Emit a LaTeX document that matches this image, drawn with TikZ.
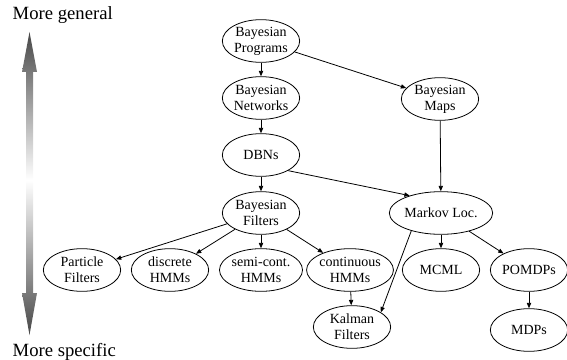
\documentclass[tikz,border=0pt]{standalone}
\usepackage{fontspec}
\setmainfont{Liberation Serif}[Ligatures=TeX]
\usepackage{tikz}
\usetikzlibrary{shapes.geometric,arrows.meta}

\begin{document}
\begin{tikzpicture}[x=0.75pt,y=-0.75pt,
			model/.style={ellipse,draw,line width=0.6pt,inner sep=0pt,minimum width=58pt,minimum height=32pt,align=center,font=\rmfamily\fontsize{10.5}{12}\selectfont},
			link/.style={-{Triangle[length=4pt,width=3.2pt]},line width=0.6pt},
			side/.style={anchor=base west,font=\rmfamily\fontsize{14}{16}\selectfont}]
			\useasboundingbox (0,0) rectangle (567,360);
			% scale on the left
			\node[side] (gen) at (8,20) {More general};
			\node[side] (spec) at (8,356) {More specific};
			\shade[top color=black!72,bottom color=white] (26,180) -- (26,72) -- (22,72) -- (29.5,32) -- (37,72) -- (33,72) -- (33,180) -- cycle;
			\shade[top color=white,bottom color=black!72] (26,180) -- (26,293) -- (22,293) -- (29.5,335) -- (37,293) -- (33,293) -- (33,180) -- cycle;
			% models
			\node[model] (bp) at (261,41) {Bayesian\\Programs};
			\node[model] (bn) at (261,98) {Bayesian\\Networks};
			\node[model] (dbn) at (261,155) {DBNs};
			\node[model] (bf) at (261,213) {Bayesian\\Filters};
			\node[model] (bm) at (440,99) {Bayesian\\Maps};
			\node[model] (ml) at (441,213) {Markov Loc.};
			\node[model] (pf) at (82,270) {Particle\\Filters};
			\node[model] (dh) at (170,270) {discrete\\HMMs};
			\node[model] (sh) at (261,270) {semi-cont.\\HMMs};
			\node[model] (ch) at (350,270) {continuous\\HMMs};
			\node[model] (kf) at (352,327) {Kalman\\Filters};
			\node[model] (mcml) at (441,270) {MCML};
			\node[model] (pomdp) at (529,270) {POMDPs};
			\node[model] (mdp) at (529,330) {MDPs};
			% links
			\draw[link] (bp) -- (bn);
			\draw[link] (bp) -- (bm);
			\draw[link] (bn) -- (dbn);
			\draw[link] (dbn) -- (bf);
			\draw[link] (dbn.-30) -- (ml.151);
			\draw[link] (bm) -- (ml);
			\draw[link] (bf) -- (pf);
			\draw[link] (bf) -- (dh);
			\draw[link] (bf) -- (sh);
			\draw[link] (bf) -- (ch);
			\draw[link] (ch) -- (kf);
			\draw[link] (ml.211) -- (kf.27);
			\draw[link] (ml) -- (mcml);
			\draw[link] (ml) -- (pomdp);
			\draw[link] (pomdp) -- (mdp);
		\end{tikzpicture}
\end{document}
